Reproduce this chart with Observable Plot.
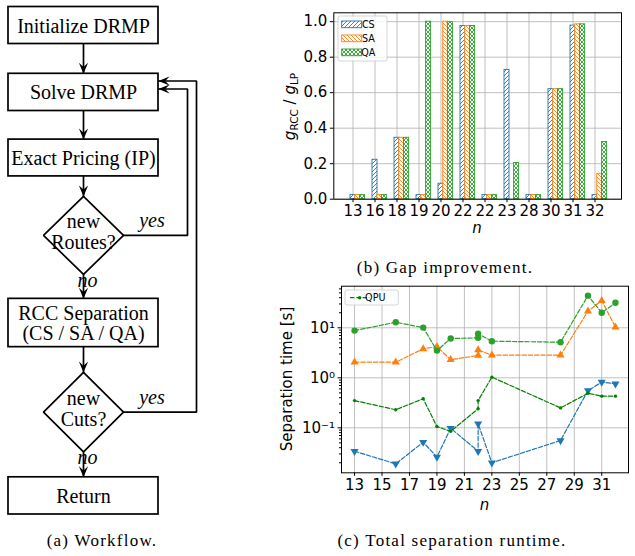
<!DOCTYPE html>
<html><head><meta charset="utf-8">
<script src="https://cdn.jsdelivr.net/npm/d3@7"></script>
<script src="https://cdn.jsdelivr.net/npm/@observablehq/plot@0.6"></script>
<style>
body{margin:0;background:#fff;}
#fig{position:relative;width:635px;height:556px;overflow:hidden;background:#fff;}
.panel{position:absolute;}
.cap{position:absolute;font-family:"Liberation Serif",serif;font-size:17px;letter-spacing:1.25px;white-space:nowrap;transform:translateX(-50%);line-height:1;color:#000;}
#flow text{font-family:"Liberation Serif","Times New Roman",serif !important;}
</style></head><body>
<div id="fig">
  <div id="flow" class="panel" style="left:0;top:0;width:215px;height:525px"></div>
  <div id="bars" class="panel" style="left:280px;top:0;width:355px;height:240px"></div>
  <div id="times" class="panel" style="left:270px;top:280px;width:365px;height:250px"></div>
  <div class="cap" style="left:102px;top:532px">(a) Workflow.</div>
  <div class="cap" style="left:445px;top:259px">(b) Gap improvement.</div>
  <div class="cap" style="left:452px;top:532px">(c) Total separation runtime.</div>
</div>
<script>
// ---------------- DATA ----------------
// Flowchart (diagram layout: node centre rows and heights)
const flowNodes = [
  {id:"init",   label:"Initialize DRMP", shape:"box", cy:25, h:37},
  {id:"solve",  label:"Solve DRMP", shape:"box", cy:91.9, h:37.2},
  {id:"price",  label:"Exact Pricing (IP)", shape:"box", cy:157.5, h:36.8},
  {id:"routes", label:"new\nRoutes?", shape:"diamond", cy:234.9, h:78},
  {id:"rcc",    label:"RCC Separation\n(CS / SA / QA)", shape:"box", cy:322.5, h:48.3},
  {id:"cuts",   label:"new\nCuts?", shape:"diamond", cy:411.7, h:79.5},
  {id:"ret",    label:"Return", shape:"box", cy:495.4, h:37.2}
];
const flowEdges = [
  {from:"init", to:"solve"},
  {from:"solve", to:"price"},
  {from:"price", to:"routes"},
  {from:"routes", to:"rcc", label:"no"},
  {from:"rcc", to:"cuts"},
  {from:"cuts", to:"ret", label:"no"},
  {from:"routes", to:"solve", label:"yes", loopX:187, entryY:88.5},
  {from:"cuts", to:"solve", label:"yes", loopX:196, entryY:80.5}
];

// Gap improvement bar chart
const gapN = ["13","16","18","19","20","22","22","23","28","30","31","32"];
const gapSeries = ["CS","SA","QA"];
const gapCS = [0.023,0.222,0.346,0.023,0.087,0.976,0.023,0.728,0.023,0.620,0.978,0.023];
const gapSA = [0.023,0.023,0.346,0.023,1.000,0.976,0.023,0.000,0.023,0.620,0.985,0.143];
const gapQA = [0.023,0.023,0.346,1.000,0.997,0.976,0.023,0.204,0.023,0.620,0.985,0.322];
const gapYTicks = [0,0.2,0.4,0.6,0.8,1.0];

// Separation runtime chart
const runN = [13,16,18,19,20,22,22,23,28,30,31,32];
const timeCS  = [0.034,0.019,0.0515,0.026,0.098,0.034,0.120,0.020,0.0557,0.557,0.82,0.76];
const timeSA  = [2.05,2.05,3.8,4.2,2.3,2.8,3.6,2.83,2.83,21.5,35,10.3];
const timeQA  = [8.8,12.9,10.1,3.5,6.1,6.3,7.6,5.4,5.15,44,20,31.6];
const timeQPU = [0.35,0.23,0.38,0.106,0.085,0.24,0.35,1.03,0.25,0.49,0.43,0.43];
const runXTicks = [13,15,17,19,21,23,25,27,29,31];
const runYTicks = [0.1,1,10];

const colors = {CS:"#1f77b4", SA:"#ff7f0e", QA:"#2ca02c", QPU:"#008000"};
const SERIF = "'Liberation Serif', 'Times New Roman', serif";

// ---------------- FLOWCHART ----------------
const CX = 83, BOX_HW = 75, DIA_HW = 40;
const byId = Object.fromEntries(flowNodes.map(d => [d.id, d]));
const top_ = d => d.cy - d.h/2, bot_ = d => d.cy + d.h/2;
const boxes = flowNodes.filter(d => d.shape === "box");
const diaPts = flowNodes.filter(d => d.shape === "diamond").flatMap(d => [
  {id:d.id, x:CX, y:top_(d)}, {id:d.id, x:CX+DIA_HW, y:d.cy}, {id:d.id, x:CX, y:bot_(d)},
  {id:d.id, x:CX-DIA_HW, y:d.cy}, {id:d.id, x:CX, y:top_(d)}
]);
const edgePts = [], heads = [], edgeLabels = [];
flowEdges.forEach((e, k) => {
  const a = byId[e.from], b = byId[e.to];
  if (e.loopX == null) {
    edgePts.push({k, x:CX, y:bot_(a)}, {k, x:CX, y:top_(b)});
    heads.push({x:CX, y:top_(b), r:0});
    if (e.label) edgeLabels.push({x:CX+4, y:bot_(a)+6, text:e.label, anchor:"start"});
  } else {
    edgePts.push({k, x:CX+DIA_HW, y:a.cy}, {k, x:e.loopX, y:a.cy}, {k, x:e.loopX, y:e.entryY}, {k, x:CX+BOX_HW, y:e.entryY});
    heads.push({x:CX+BOX_HW, y:e.entryY, r:90});
    edgeLabels.push({x:151.5, y:a.cy-14.5, text:e.label, anchor:"middle"});
  }
});
const stealth = {draw(ctx){ ctx.moveTo(0,0); ctx.lineTo(-4.6,-11); ctx.lineTo(0,-6.8); ctx.lineTo(4.6,-11); ctx.closePath(); }};

const flow = Plot.plot({
  width:215, height:525, margin:0,
  x:{domain:[0,215], range:[0,215], axis:null},
  y:{domain:[0,525], range:[0,525], axis:null},
  style:{fontFamily:SERIF, background:"transparent"},
  marks:[
    Plot.line(edgePts, {x:"x", y:"y", z:"k", stroke:"black", strokeWidth:1.7, strokeLinejoin:"miter"}),
    Plot.rect(boxes, {x1:CX-BOX_HW, x2:CX+BOX_HW, y1:top_, y2:bot_, fill:"white", stroke:"black", strokeWidth:1.7}),
    Plot.line(diaPts, {x:"x", y:"y", z:"id", fill:"white", stroke:"black", strokeWidth:1.7, strokeLinejoin:"miter"}),
    Plot.dot(heads, {x:"x", y:"y", rotate:"r", symbol:stealth, fill:"black", stroke:"none", r:5}),
    Plot.text(flowNodes, {x:CX, y:d => d.shape === "diamond" ? d.cy - 3.5 : d.cy + 0.5, text:"label", fontFamily:SERIF, fontSize:20, lineHeight:1.03, fill:"black"}),
    Plot.text(edgeLabels, {x:"x", y:"y", text:"text", textAnchor:d => d.anchor, fontFamily:SERIF, fontSize:20, fontStyle:"italic", fill:"black"})
  ]
});
document.getElementById("flow").appendChild(flow);

// ---------------- BAR CHART ----------------
const gapVals = {CS:gapCS, SA:gapSA, QA:gapQA};
const gapRows = gapSeries.flatMap(s => gapN.map((n, i) => ({i, n, s, v:gapVals[s][i]})));
const BW = 4.8;
const gridStyle = {stroke:"#b0b0b0", strokeOpacity:1, strokeWidth:0.8};
const bars = Plot.plot({
  width:355, height:240,
  marginLeft:53.3, marginRight:14, marginTop:12.3, marginBottom:41.3,
  x:{type:"band", domain:d3.range(gapN.length), range:[66, 320.7], paddingInner:0.789, paddingOuter:0},
  y:{domain:[0,1.05]},
  style:{fontFamily:"DejaVu Sans", fontSize:"15px", background:"white", color:"black"},
  marks:[
    Plot.gridX({...gridStyle}),
    Plot.gridY({ticks:gapYTicks, ...gridStyle}),
    ...gapSeries.map((s, j) => Plot.barY(gapRows.filter(d => d.s === s), {
      x:"i", y:"v", fill:`url(#hatch${s})`, stroke:colors[s], strokeWidth:0.9,
      insetLeft:j*BW, insetRight:-j*BW
    })),
    Plot.frame({stroke:"black", strokeWidth:1}),
    Plot.axisX({tickFormat:i => gapN[i], tickSize:3.5, tickPadding:3, label:null, fontSize:15}),
    Plot.axisY({ticks:gapYTicks, tickFormat:d3.format(".1f"), tickSize:3.5, tickPadding:3, label:null, fontSize:15})
  ]
});
document.getElementById("bars").appendChild(bars);
{
  const svg = d3.select(bars);
  const defs = svg.insert("defs", ":first-child");
  const mk = (id, color, d, sw) => {
    const p = defs.append("pattern").attr("id", id).attr("patternUnits","userSpaceOnUse").attr("width",4).attr("height",4);
    p.append("rect").attr("width",4).attr("height",4).attr("fill","white");
    p.append("path").attr("d", d).attr("stroke", color).attr("stroke-width", sw).attr("fill","none");
  };
  const fwd = "M-1,1L1,-1M0,4L4,0M3,5L5,3", back = "M-1,3L1,5M0,0L4,4M3,-1L5,1";
  mk("hatchCS", colors.CS, fwd, 0.9);
  mk("hatchSA", colors.SA, back, 0.9);
  mk("hatchQA", colors.QA, fwd + back, 0.9);
  // y label with subscripts
  const t = svg.append("text").attr("transform","translate(15,106.5) rotate(-90)")
    .attr("text-anchor","middle").attr("font-family","DejaVu Sans").attr("font-size",15).attr("fill","black");
  t.append("tspan").attr("font-style","italic").text("g");
  t.append("tspan").attr("font-size",10.5).attr("dy",3).text("RCC");
  t.append("tspan").attr("dy",-3).text(" / ");
  t.append("tspan").attr("font-style","italic").text("g");
  t.append("tspan").attr("font-size",10.5).attr("dy",3).text("LP");
  // x label
  svg.append("text").attr("x",197).attr("y",233).attr("text-anchor","middle")
    .attr("font-family","DejaVu Sans").attr("font-size",15).attr("font-style","italic").attr("fill","black").text("n");
  // legend
  const lg = svg.append("g");
  lg.append("rect").attr("x",58).attr("y",16).attr("width",49).attr("height",45).attr("rx",2)
    .attr("fill","white").attr("fill-opacity",0.8).attr("stroke","#cccccc").attr("stroke-width",0.8);
  gapSeries.forEach((s, j) => {
    const cy = 24.3 + j*14;
    lg.append("rect").attr("x",61.7).attr("y",cy-3.3).attr("width",20).attr("height",6.7)
      .attr("fill",`url(#hatch${s})`).attr("stroke",colors[s]).attr("stroke-width",0.9);
    lg.append("text").attr("x",88.3).attr("y",cy+3.5).attr("font-family","DejaVu Sans").attr("font-size",9.6).attr("fill","black").text(s);
  });
}

// ---------------- RUNTIME CHART ----------------
const runSeries = [
  {s:"CS", v:timeCS, symbol:"triangle", r:3, rot:180},
  {s:"SA", v:timeSA, symbol:"triangle", r:3, rot:0},
  {s:"QA", v:timeQA, symbol:"circle", r:3.2, rot:0},
  {s:"QPU", v:timeQPU, symbol:"circle", r:1.7, rot:0}
];
const minorTicks = [];
for (let k = -2; k <= 1; k++) for (let m = 2; m <= 9; m++) {
  const v = m * Math.pow(10, k);
  if (v > Math.pow(10,-1.9) && v < Math.pow(10,1.832)) minorTicks.push(v);
}
const sup = {"-":"\u207B","0":"\u2070","1":"\u00B9","2":"\u00B2","3":"\u00B3"};
const powFmt = d => "10" + String(Math.round(Math.log10(d))).split("").map(c => sup[c]).join("");
const times = Plot.plot({
  width:365, height:250,
  marginLeft:71, marginRight:7, marginTop:5.7, marginBottom:57.7,
  x:{domain:[12.05,32.95]},
  y:{type:"log", domain:[Math.pow(10,-1.9), Math.pow(10,1.832)]},
  style:{fontFamily:"DejaVu Sans", fontSize:"15px", background:"white", color:"black"},
  marks:[
    Plot.gridX({ticks:runXTicks, ...gridStyle}),
    Plot.gridY({ticks:runYTicks, ...gridStyle}),
    ...runSeries.flatMap(o => {
      const rows = runN.map((n, i) => ({n, v:o.v[i]}));
      return [
        Plot.line(rows, {x:"n", y:"v", stroke:colors[o.s], strokeWidth:1.2, strokeDasharray:"4.4,1.9"}),
        Plot.dot(rows, {x:"n", y:"v", symbol:o.symbol, r:o.r, rotate:o.rot, fill:colors[o.s], stroke:"none"})
      ];
    }),
    Plot.frame({stroke:"black", strokeWidth:1}),
    Plot.axisX({ticks:runXTicks, tickSize:3.5, tickPadding:3, label:null, fontSize:15}),
    Plot.axisY({ticks:runYTicks, tickFormat:powFmt, tickSize:3.5, tickPadding:3, label:null, fontSize:15}),
    Plot.axisY({ticks:minorTicks, tickFormat:() => "", tickSize:2, label:null})
  ]
});
document.getElementById("times").appendChild(times);
{
  const svg = d3.select(times);
  svg.append("text").attr("transform","translate(22,99) rotate(-90)").attr("text-anchor","middle")
    .attr("font-family","DejaVu Sans").attr("font-size",15).attr("fill","black").text("Separation time [s]");
  svg.append("text").attr("x",214.5).attr("y",230).attr("text-anchor","middle")
    .attr("font-family","DejaVu Sans").attr("font-size",15).attr("font-style","italic").attr("fill","black").text("n");
  const lg = svg.append("g");
  lg.append("rect").attr("x",75).attr("y",10).attr("width",53.3).attr("height",15).attr("rx",2)
    .attr("fill","white").attr("fill-opacity",0.8).attr("stroke","#cccccc").attr("stroke-width",0.8);
  lg.append("line").attr("x1",80).attr("x2",99.3).attr("y1",17.7).attr("y2",17.7)
    .attr("stroke",colors.QPU).attr("stroke-width",1.2).attr("stroke-dasharray","4.4,1.9");
  lg.append("circle").attr("cx",89.7).attr("cy",17.7).attr("r",1.7).attr("fill",colors.QPU);
  lg.append("text").attr("x",105.3).attr("y",21.2).attr("font-family","DejaVu Sans").attr("font-size",9.6).attr("fill","black").text("QPU");
}
</script>
</body></html>
